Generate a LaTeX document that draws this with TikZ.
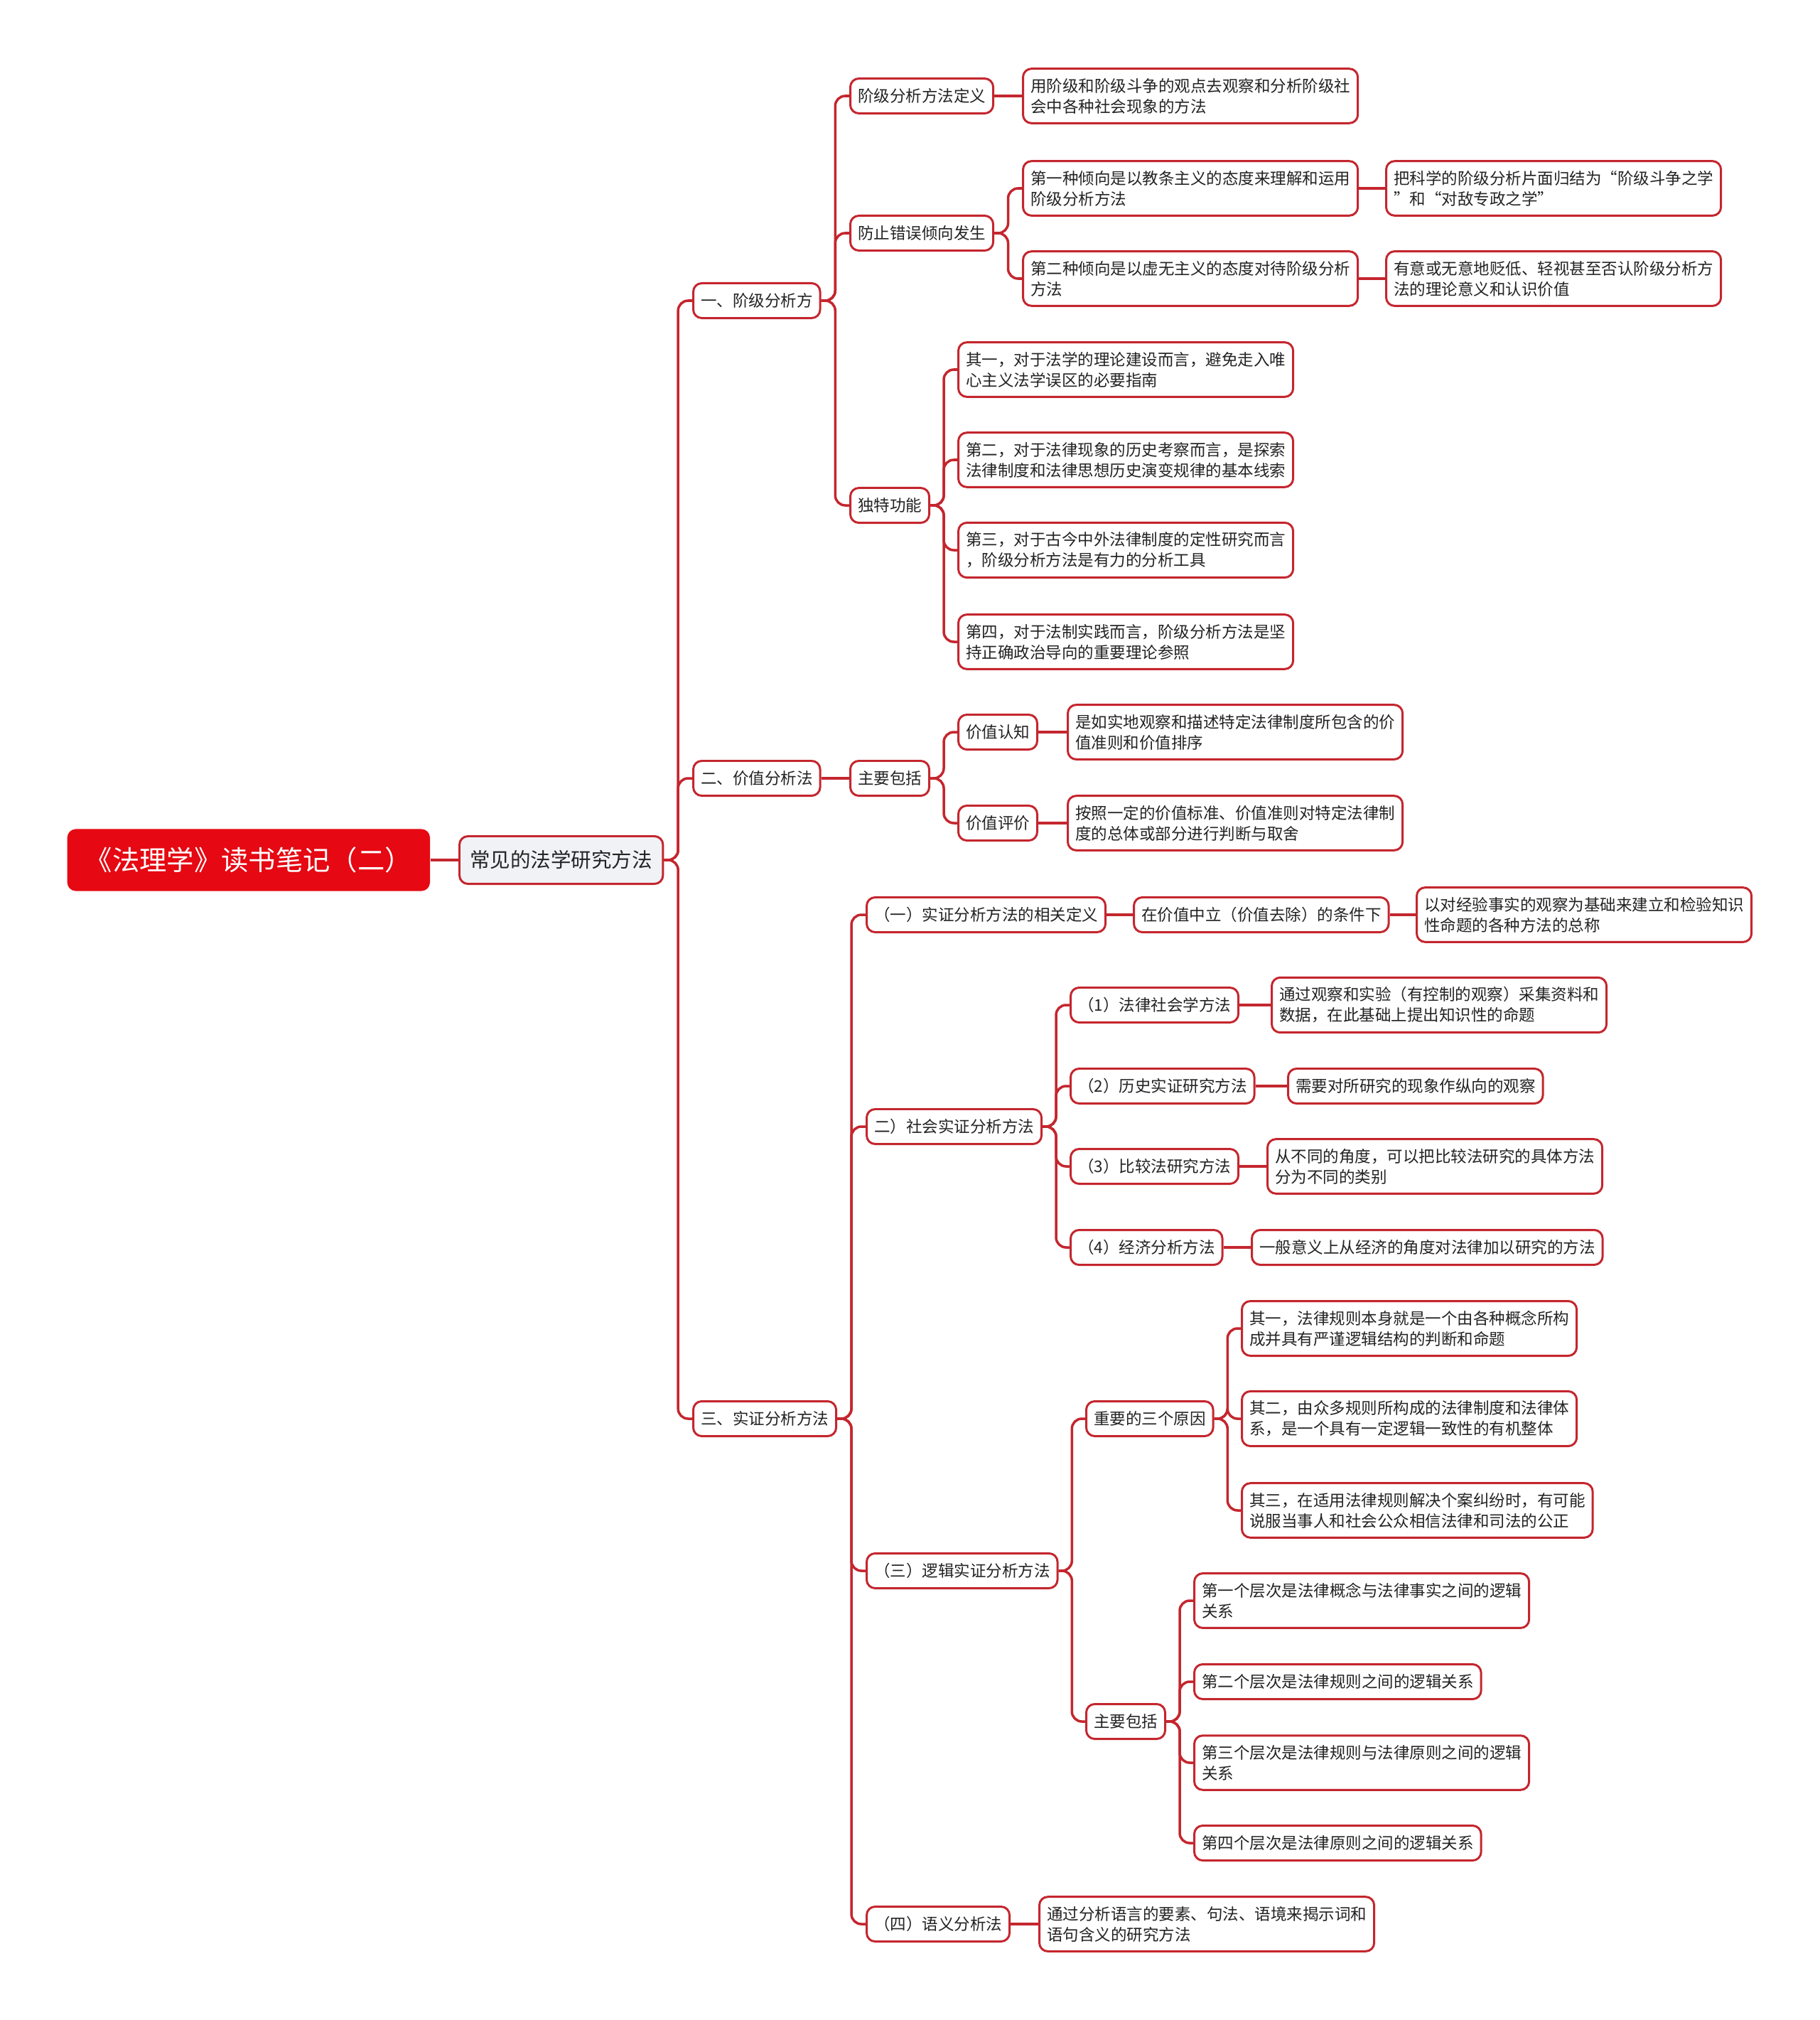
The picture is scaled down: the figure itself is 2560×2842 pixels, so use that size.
\documentclass[tikz,border=0pt]{standalone}
\usepackage{fontspec}
\setmainfont{Noto Sans CJK SC}
\usetikzlibrary{calc}
\definecolor{cRoot}{RGB}{230,8,18}
\definecolor{cLine}{RGB}{196,38,46}
\definecolor{cSub}{RGB}{240,242,246}
\definecolor{cText}{RGB}{35,35,35}

\begin{document}
\begin{tikzpicture}[x=0.01cm,y=-0.01cm,
  root/.style={fill=cRoot,rounded corners=3.4pt,text=white,anchor=west,
    minimum width=5.1cm,minimum height=0.87cm,font=\fontsize{10.9pt}{12pt}\selectfont},
  sub/.style={draw=cLine,fill=cSub,line width=0.85pt,rounded corners=3.4pt,text=cText,anchor=west,
    minimum height=0.67cm,inner xsep=0.15cm,font=\fontsize{8.1pt}{10pt}\selectfont},
  topic/.style={draw=cLine,fill=white,line width=0.85pt,rounded corners=3.4pt,text=cText,anchor=west,
    minimum height=0.49cm,inner xsep=0.105cm,inner ysep=3.8pt,align=left,
    font=\fontsize{6.4pt}{8.25pt}\selectfont},
  link/.style={draw=cLine,line width=1pt,rounded corners=4pt}]
\useasboundingbox (0,0) rectangle (2560,2842);

\node[root] (root) at (94,1210) {《法理学》读书笔记（二）};
\node[sub] (main) at (645,1210) {常见的法学研究方法};

\node[topic] (cls) at (974,423) {一、阶级分析方};
\node[topic] (val) at (974,1095) {二、价值分析法};
\node[topic] (emp) at (974,1996) {三、实证分析方法};

% 一、阶级分析
\node[topic] (clsDef) at (1195,135) {阶级分析方法定义};
\node[topic] (clsDefT) at (1438,135) {用阶级和阶级斗争的观点去观察和分析阶级社\\会中各种社会现象的方法};
\node[topic] (clsErr) at (1195,328) {防止错误倾向发生};
\node[topic] (clsErrA) at (1438,265) {第一种倾向是以教条主义的态度来理解和运用\\阶级分析方法};
\node[topic] (clsErrAT) at (1949,265) {把科学的阶级分析片面归结为“阶级斗争之学\\”和“对敌专政之学”};
\node[topic] (clsErrB) at (1438,392) {第二种倾向是以虚无主义的态度对待阶级分析\\方法};
\node[topic] (clsErrBT) at (1949,392) {有意或无意地贬低、轻视甚至否认阶级分析方\\法的理论意义和认识价值};
\node[topic] (clsFun) at (1195,711) {独特功能};
\node[topic] (clsFunA) at (1347,520) {其一，对于法学的理论建设而言，避免走入唯\\心主义法学误区的必要指南};
\node[topic] (clsFunB) at (1347,647) {第二，对于法律现象的历史考察而言，是探索\\法律制度和法律思想历史演变规律的基本线索};
\node[topic] (clsFunC) at (1347,774) {第三，对于古今中外法律制度的定性研究而言\\，阶级分析方法是有力的分析工具};
\node[topic] (clsFunD) at (1347,903) {第四，对于法制实践而言，阶级分析方法是坚\\持正确政治导向的重要理论参照};

% 二、价值分析
\node[topic] (valInc) at (1195,1095) {主要包括};
\node[topic] (valCog) at (1347,1030) {价值认知};
\node[topic] (valCogT) at (1501,1030) {是如实地观察和描述特定法律制度所包含的价\\值准则和价值排序};
\node[topic] (valEva) at (1347,1158) {价值评价};
\node[topic] (valEvaT) at (1501,1158) {按照一定的价值标准、价值准则对特定法律制\\度的总体或部分进行判断与取舍};

% 三、实证分析
\node[topic] (empDef) at (1218,1287) {（一）实证分析方法的相关定义};
\node[topic] (empDefC) at (1594,1287) {在价值中立（价值去除）的条件下};
\node[topic] (empDefT) at (1992,1287) {以对经验事实的观察为基础来建立和检验知识\\性命题的各种方法的总称};
\node[topic] (empSoc) at (1218,1585) {二）社会实证分析方法};
\node[topic] (empSocA) at (1505,1414) {（1）法律社会学方法};
\node[topic] (empSocAT) at (1788,1414) {通过观察和实验（有控制的观察）采集资料和\\数据，在此基础上提出知识性的命题};
\node[topic] (empSocB) at (1505,1528) {（2）历史实证研究方法};
\node[topic] (empSocBT) at (1811,1528) {需要对所研究的现象作纵向的观察};
\node[topic] (empSocC) at (1505,1641) {（3）比较法研究方法};
\node[topic] (empSocCT) at (1782,1641) {从不同的角度，可以把比较法研究的具体方法\\分为不同的类别};
\node[topic] (empSocD) at (1505,1755) {（4）经济分析方法};
\node[topic] (empSocDT) at (1760,1755) {一般意义上从经济的角度对法律加以研究的方法};
\node[topic] (empLog) at (1218,2210) {（三）逻辑实证分析方法};
\node[topic] (empLogR) at (1527,1996) {重要的三个原因};
\node[topic] (empLogRA) at (1746,1869) {其一，法律规则本身就是一个由各种概念所构\\成并具有严谨逻辑结构的判断和命题};
\node[topic] (empLogRB) at (1746,1996) {其二，由众多规则所构成的法律制度和法律体\\系，是一个具有一定逻辑一致性的有机整体};
\node[topic] (empLogRC) at (1746,2125) {其三，在适用法律规则解决个案纠纷时，有可能\\说服当事人和社会公众相信法律和司法的公正};
\node[topic] (empLogL) at (1527,2422) {主要包括};
\node[topic] (empLogLA) at (1679,2252) {第一个层次是法律概念与法律事实之间的逻辑\\关系};
\node[topic] (empLogLB) at (1679,2366) {第二个层次是法律规则之间的逻辑关系};
\node[topic] (empLogLC) at (1679,2480) {第三个层次是法律规则与法律原则之间的逻辑\\关系};
\node[topic] (empLogLD) at (1679,2593) {第四个层次是法律原则之间的逻辑关系};
\node[topic] (empSem) at (1218,2707) {（四）语义分析法};
\node[topic] (empSemT) at (1461,2707) {通过分析语言的要素、句法、语境来揭示词和\\语句含义的研究方法};

% connectors
\draw[link] (root.east) -- (main.west);
\draw[link] (main.east) -| ($(main.east)!.5!(cls.west)$) |- (cls.west);
\draw[link] (main.east) -| ($(main.east)!.5!(val.west)$) |- (val.west);
\draw[link] (main.east) -| ($(main.east)!.5!(emp.west)$) |- (emp.west);
\draw[link] (cls.east) -| ($(cls.east)!.5!(clsDef.west)$) |- (clsDef.west);
\draw[link] (cls.east) -| ($(cls.east)!.5!(clsErr.west)$) |- (clsErr.west);
\draw[link] (cls.east) -| ($(cls.east)!.5!(clsFun.west)$) |- (clsFun.west);
\draw[link] (clsDef.east) -- (clsDefT.west);
\draw[link] (clsErr.east) -| ($(clsErr.east)!.5!(clsErrA.west)$) |- (clsErrA.west);
\draw[link] (clsErr.east) -| ($(clsErr.east)!.5!(clsErrB.west)$) |- (clsErrB.west);
\draw[link] (clsErrA.east) -- (clsErrAT.west);
\draw[link] (clsErrB.east) -- (clsErrBT.west);
\draw[link] (clsFun.east) -| ($(clsFun.east)!.5!(clsFunA.west)$) |- (clsFunA.west);
\draw[link] (clsFun.east) -| ($(clsFun.east)!.5!(clsFunB.west)$) |- (clsFunB.west);
\draw[link] (clsFun.east) -| ($(clsFun.east)!.5!(clsFunC.west)$) |- (clsFunC.west);
\draw[link] (clsFun.east) -| ($(clsFun.east)!.5!(clsFunD.west)$) |- (clsFunD.west);
\draw[link] (val.east) -- (valInc.west);
\draw[link] (valInc.east) -| ($(valInc.east)!.5!(valCog.west)$) |- (valCog.west);
\draw[link] (valInc.east) -| ($(valInc.east)!.5!(valEva.west)$) |- (valEva.west);
\draw[link] (valCog.east) -- (valCogT.west);
\draw[link] (valEva.east) -- (valEvaT.west);
\draw[link] (emp.east) -| ($(emp.east)!.5!(empDef.west)$) |- (empDef.west);
\draw[link] (emp.east) -| ($(emp.east)!.5!(empSoc.west)$) |- (empSoc.west);
\draw[link] (emp.east) -| ($(emp.east)!.5!(empLog.west)$) |- (empLog.west);
\draw[link] (emp.east) -| ($(emp.east)!.5!(empSem.west)$) |- (empSem.west);
\draw[link] (empDef.east) -- (empDefC.west);
\draw[link] (empDefC.east) -- (empDefT.west);
\draw[link] (empSoc.east) -| ($(empSoc.east)!.5!(empSocA.west)$) |- (empSocA.west);
\draw[link] (empSoc.east) -| ($(empSoc.east)!.5!(empSocB.west)$) |- (empSocB.west);
\draw[link] (empSoc.east) -| ($(empSoc.east)!.5!(empSocC.west)$) |- (empSocC.west);
\draw[link] (empSoc.east) -| ($(empSoc.east)!.5!(empSocD.west)$) |- (empSocD.west);
\draw[link] (empSocA.east) -- (empSocAT.west);
\draw[link] (empSocB.east) -- (empSocBT.west);
\draw[link] (empSocC.east) -- (empSocCT.west);
\draw[link] (empSocD.east) -- (empSocDT.west);
\draw[link] (empLog.east) -| ($(empLog.east)!.5!(empLogR.west)$) |- (empLogR.west);
\draw[link] (empLog.east) -| ($(empLog.east)!.5!(empLogL.west)$) |- (empLogL.west);
\draw[link] (empLogR.east) -| ($(empLogR.east)!.5!(empLogRA.west)$) |- (empLogRA.west);
\draw[link] (empLogR.east) -| ($(empLogR.east)!.5!(empLogRB.west)$) |- (empLogRB.west);
\draw[link] (empLogR.east) -| ($(empLogR.east)!.5!(empLogRC.west)$) |- (empLogRC.west);
\draw[link] (empLogL.east) -| ($(empLogL.east)!.5!(empLogLA.west)$) |- (empLogLA.west);
\draw[link] (empLogL.east) -| ($(empLogL.east)!.5!(empLogLB.west)$) |- (empLogLB.west);
\draw[link] (empLogL.east) -| ($(empLogL.east)!.5!(empLogLC.west)$) |- (empLogLC.west);
\draw[link] (empLogL.east) -| ($(empLogL.east)!.5!(empLogLD.west)$) |- (empLogLD.west);
\draw[link] (empSem.east) -- (empSemT.west);
\end{tikzpicture}
\end{document}
